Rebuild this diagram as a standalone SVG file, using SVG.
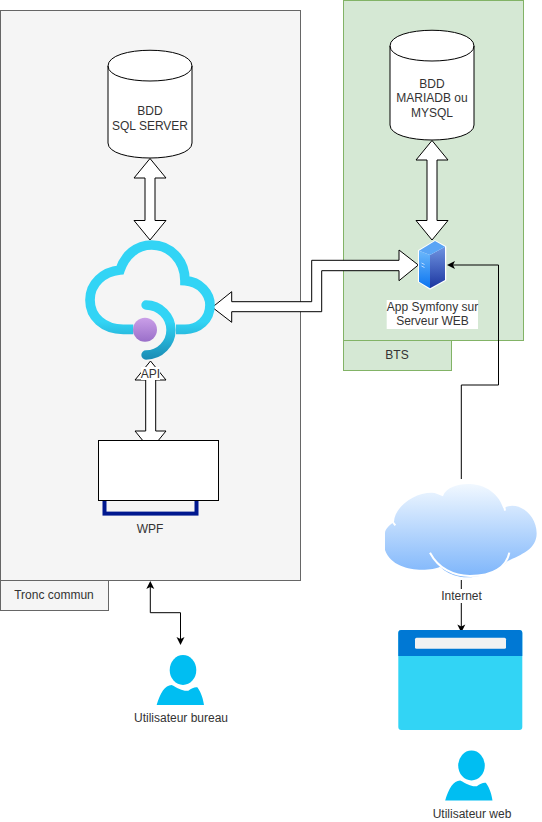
<svg xmlns="http://www.w3.org/2000/svg" width="542" height="822" viewBox="0 0 542 822">
<style>
text{font-family:"Liberation Sans",Arial,sans-serif;font-size:12px;fill:#333;text-anchor:middle}
.o{fill:#fff;stroke:#000}
.a{fill:#fff;stroke:#000;stroke-linejoin:miter}
.l{fill:none;stroke:#000}
.h{fill:#000}
.g{fill:#d5e8d4;stroke:#82b366}
.t{fill:#f5f5f5;stroke:#666}
.u{fill:#00bef2}
</style>
<defs>
<linearGradient id="c1" gradientUnits="userSpaceOnUse" x1="0" y1="30" x2="0" y2="390"><stop offset="0" stop-color="#32d4f5"/><stop offset=".68" stop-color="#32d4f5"/><stop offset="1" stop-color="#198ab3"/></linearGradient>
<linearGradient id="c2" x1="0" y1="0" x2="0" y2="1"><stop offset="0" stop-color="#ca9fe8"/><stop offset="1" stop-color="#9a6fc9"/></linearGradient>
<linearGradient id="c3" x1="0" y1="0" x2="0" y2="1"><stop offset="0" stop-color="#f1f8ff"/><stop offset="1" stop-color="#7db5fb"/></linearGradient>
<linearGradient id="c4" x1="0" y1="0" x2="0" y2="1"><stop offset="0" stop-color="#6f93e0"/><stop offset="1" stop-color="#1c36a0"/></linearGradient>
<linearGradient id="c5" x1="0" y1="0" x2="0" y2="1"><stop offset="0" stop-color="#6cb8fb"/><stop offset="1" stop-color="#0a74f0"/></linearGradient>
<g id="person"><ellipse class="u" cx="183" cy="670" rx="13.300" ry="15"/><path class="u" transform="translate(100 570) scale(.3333)" d="M170 405C180 370 195 345 215 345C235 355 250 365 265 362C275 355 285 350 292 352C305 370 310 390 312 405Z"/></g>
</defs>
<g id="tronc"><rect class="t" x="0.500" y="10.500" width="300" height="570"/><rect class="t" x="0.500" y="580.500" width="108" height="30"/><text x="54" y="599">Tronc commun</text></g>
<g id="bts"><rect class="g" x="343.500" y="0.500" width="180" height="340"/><rect class="g" x="343.500" y="340.500" width="108" height="30"/><text x="397" y="359">BTS</text></g>
<g id="connectors">
<path class="a" d="M150 158.500L166 178H155V220.500H166L150 240L134 220.500H145V178H134Z"/>
<path class="a" d="M432 140.500L448 160H437V220.500H448L432 240L416 220.500H427V160H416Z"/>
<path class="a" d="M150.500 361L166 380H155.700V431H166L150.500 450L135 431H145.700V380H135Z"/>
<path class="a" d="M418.300 265L399 250V260.300H311.700V301.700H231.700V291.700L212.300 307.300L231.700 322.300V311.700H321.700V270.700H399V280.700Z"/>
<path class="l" d="M461.300 479V385H498.500V265H453"/><path class="h" d="M447 265L455 261L453 265L455 269Z"/>
<path class="l" d="M461.300 580V628"/><path class="h" d="M461.300 632.500L457.300 624.500L461.300 626.500L465.300 624.500Z"/>
<path class="l" d="M150.300 587V612.700H180.500V639"/><path class="h" d="M150.300 581L154.300 589L150.300 587L146.300 589ZM180.500 645L176.500 637L180.500 639L184.500 637Z"/>
</g>
<g id="sql"><path class="o" d="M108 66C108 45 192 45 192 66V143C192 163 108 163 108 143Z"/><path class="l" d="M108 66C108 86 192 86 192 66"/><text x="150" y="115">BDD</text><text x="150" y="130">SQL SERVER</text></g>
<g id="maria"><path class="o" d="M390 46C390 25 474 25 474 46V125C474 145 390 145 390 125Z"/><path class="l" d="M390 46C390 66 474 66 474 46"/><text x="432" y="88">BDD</text><text x="432" y="102">MARIADB ou</text><text x="432" y="117">MYSQL</text></g>
<g id="api">
<g transform="translate(70 230) scale(.3333)">
<path d="M190 298H160C100 298 60 260 60 210C60 160 100 125 150 120C165 75 200 45 245 45C300 45 345 90 345 152C390 155 420 190 420 225C420 270 385 298 345 298H318" fill="none" stroke="url(#c1)" stroke-width="29"/>
<path d="M228 225C270 225 303 260 303 300C303 340 270 375 228 375" fill="none" stroke="url(#c1)" stroke-width="28" stroke-linecap="round"/>
</g>
<circle cx="145" cy="329.700" r="12" fill="url(#c2)"/>
<rect x="141" y="367" width="19" height="13" fill="#fff"/><text x="150.500" y="378">API</text>
</g>
<g id="wpf"><rect x="104.500" y="490" width="92" height="23.600" fill="none" stroke="#00188f" stroke-width="4"/><rect class="o" x="98.500" y="440.500" width="120" height="60"/><text x="150" y="533">WPF</text></g>
<g id="web">
<path d="M435 241L445.500 246.700V280L430 288.800L418.700 281.700V250.700Z" fill="#fff" stroke="#fff" stroke-width="1.500" stroke-linejoin="round"/>
<path d="M419 250.700L430 255V288.300L419 281.700Z" fill="url(#c5)"/>
<path d="M430 255L445 246.700V280L430 288.300Z" fill="url(#c4)"/>
<path d="M419 250.700L435 241L445 246.700L430 255Z" fill="#5aa5f5"/>
<path d="M421.500 263L424.500 264.500M421.500 266L424.500 267.500" stroke="#d5e8ff" stroke-width=".8" fill="none"/>
<rect x="386.700" y="300" width="91.300" height="29" fill="#fff"/><text x="432.500" y="311">App Symfony sur</text><text x="432.500" y="325">Serveur WEB</text></g>
<g id="cloud"><g transform="translate(370 470) scale(.3333)">
<path d="M45 190C45 175 60 165 72 155C75 100 160 50 220 75C240 30 370 20 400 115C440 90 500 130 500 190C500 240 450 255 410 275C400 290 340 330 270 320C245 315 225 305 210 290C180 305 70 310 45 240Z" fill="url(#c3)"/>
<path d="M180 248C205 295 250 318 300 318C370 318 410 290 418 248M66 153L76 166M220 76L188 63M400 92L405 122" fill="none" stroke="#fff" stroke-width="6"/>
</g>
<rect x="440" y="589" width="44" height="14" fill="#fff"/><text x="461.500" y="600">Internet</text></g>
<g id="window"><rect x="398.300" y="630" width="124" height="100" rx="3" fill="#32d4f5"/><path d="M398.300 656V633a3 3 0 0 1 3-3H519.300a3 3 0 0 1 3 3V656Z" fill="#0078d4"/><rect x="415" y="637.700" width="91" height="11" rx="1.500" fill="#f2f2f2"/></g>
<g id="user1"><use href="#person"/><text x="181" y="722">Utilisateur bureau</text></g>
<g id="user2"><use href="#person" x="288.500" y="95.500"/><text x="472" y="818">Utilisateur web</text></g>
</svg>
